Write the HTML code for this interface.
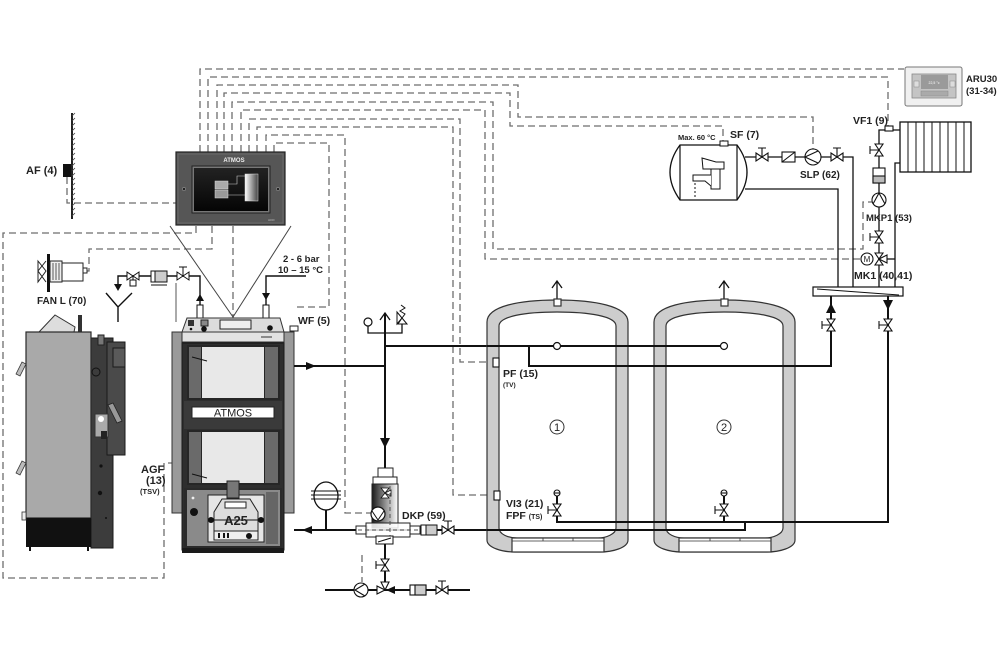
<!DOCTYPE html>
<html><head><meta charset="utf-8"><style>
html,body{margin:0;padding:0;background:#fff;}
svg{display:block;}
text{font-family:"Liberation Sans",Arial,sans-serif;font-weight:bold;fill:#222;}
</style></head><body>
<svg width="1000" height="666" viewBox="0 0 1000 666" xmlns="http://www.w3.org/2000/svg">
<defs>
<linearGradient id="dk" x1="0" x2="1" y1="0" y2="0"><stop offset="0" stop-color="#1a1a1a"/><stop offset="0.55" stop-color="#999"/><stop offset="1" stop-color="#fff"/></linearGradient>
<linearGradient id="tkg" x1="0" x2="1" y1="0" y2="0"><stop offset="0" stop-color="#fff"/><stop offset="1" stop-color="#444"/></linearGradient>
<linearGradient id="scr" x1="0" x2="0" y1="0" y2="1"><stop offset="0" stop-color="#222"/><stop offset="1" stop-color="#050505"/></linearGradient>
</defs>

<!-- ========== DASHED SIGNAL LINES ========== -->
<g fill="none" stroke="#6e6e6e" stroke-width="1.3" stroke-dasharray="7,4">
<path d="M200,152 V69 H904"/>
<path d="M208,152 V77 H888 V126"/>
<path d="M217,152 V85 H518 V117 H813 V149"/>
<path d="M224,152 V93 H510 V126 H723 V141"/>
<path d="M232,152 V102 H493 V249 H863 V202 H872"/>
<path d="M241,152 V110 H485 V259 H861"/>
<path d="M249,152 V119 H460 V362 H493"/>
<path d="M257,152 V127 H453 V495 H494"/>
<path d="M266,152 V135 H345 V513 H371"/>
<path d="M274,152 V143 H329 V307 H293"/>
<path d="M67,177 V203 H176"/>
<path d="M196,226 V233 H3 V578 H164 V463 H172"/>
<path d="M212,226 V249 H89 V271 H85"/>
<path d="M233,226 V318"/>
<path d="M362,555 V582"/>
</g>
<line x1="176" y1="283" x2="176" y2="322" stroke="#555" stroke-width="1"/>

<!-- triangle from controller to boiler -->
<path d="M170,226 L233,317 L291,226" fill="none" stroke="#444" stroke-width="1"/>

<!-- ========== AF wall sensor ========== -->
<line x1="72" y1="113" x2="72" y2="219" stroke="#222" stroke-width="2"/>
<g stroke="#444" stroke-width="0.8">
<path d="M72,116 l3,-3 M72,121 l3,-3 M72,126 l3,-3 M72,131 l3,-3 M72,136 l3,-3 M72,141 l3,-3 M72,146 l3,-3 M72,151 l3,-3 M72,156 l3,-3 M72,161 l3,-3 M72,166 l3,-3 M72,171 l3,-3 M72,176 l3,-3 M72,181 l3,-3 M72,186 l3,-3 M72,191 l3,-3 M72,196 l3,-3 M72,201 l3,-3 M72,206 l3,-3 M72,211 l3,-3 M72,216 l3,-3"/>
</g>
<rect x="63" y="164" width="8" height="13" fill="#111"/>
<text x="26" y="174" font-size="11">AF (4)</text>

<!-- ========== CONTROLLER ========== -->
<rect x="176" y="152" width="109" height="73" fill="#565656" stroke="#222" stroke-width="1.2"/>
<rect x="178" y="154" width="105" height="69" fill="none" stroke="#6a6a6a" stroke-width="1"/>
<text x="234" y="162" font-size="6" text-anchor="middle" style="fill:#eee">ATMOS</text>
<rect x="192" y="166" width="78" height="47" fill="#777" stroke="#222"/>
<rect x="194" y="168" width="74" height="43" fill="url(#scr)"/>
<circle cx="184" cy="189" r="1.6" fill="#222" stroke="#999" stroke-width="0.6"/>
<circle cx="278" cy="189" r="1.6" fill="#222" stroke="#999" stroke-width="0.6"/>
<rect x="215" y="181" width="13" height="8" fill="#aaa" stroke="#ddd" stroke-width="0.5"/>
<rect x="215" y="190" width="13" height="8" fill="#999" stroke="#ddd" stroke-width="0.5"/>
<rect x="245" y="174" width="13" height="27" fill="url(#tkg)" stroke="#ddd" stroke-width="0.5"/>
<path d="M228,184 H237 V176 H245 M228,195 H245" fill="none" stroke="#ccc" stroke-width="0.6"/>
<text x="268" y="221" font-size="3" style="fill:#aaa">ACD</text>

<!-- ========== FAN L ========== -->
<rect x="47" y="254" width="3" height="38" fill="#111"/>
<path d="M38,261 L46,271 L38,282 Z M46,261 L38,271 L46,282" fill="#fff" stroke="#222" stroke-width="1"/>
<rect x="50" y="261" width="12" height="21" fill="#eee" stroke="#222"/>
<path d="M53,263 V280 M56,263 V280 M59,263 V280" stroke="#333" stroke-width="0.8"/>
<rect x="62" y="263" width="21" height="18" fill="#fff" stroke="#222"/>
<rect x="83" y="268" width="4" height="5" fill="#fff" stroke="#222"/>
<text x="37" y="304" font-size="10">FAN L (70)</text>

<!-- ========== BOILER SIDE VIEW ========== -->
<path d="M39,332 L55,315 L75,327 L74,332 Z" fill="#ddd" stroke="#333"/>
<rect x="78" y="315" width="4" height="17" fill="#333"/>
<rect x="91" y="338" width="22" height="210" fill="#3c3c3c" stroke="#1a1a1a"/>
<rect x="107" y="342" width="18" height="113" fill="#4a4a4a" stroke="#1a1a1a"/>
<rect x="113" y="348" width="12" height="19" fill="#5a5a5a" stroke="#1a1a1a"/>
<rect x="98" y="335" width="6" height="10" fill="#777" stroke="#222"/>
<circle cx="96" cy="372" r="4" fill="none" stroke="#111"/>
<rect x="95" y="414" width="13" height="23" fill="#aaa" stroke="#333"/>
<circle cx="101" cy="419" r="3" fill="#fff"/>
<rect x="101" y="431" width="6" height="8" fill="#222"/>
<path d="M108,405 L113,403 L122,421 L117,423 Z" fill="#999" stroke="#222" stroke-width="0.8"/>
<circle cx="101" cy="466" r="1.6" fill="#111"/>
<circle cx="100" cy="493" r="2.2" fill="#111"/>
<circle cx="106" cy="518" r="1" fill="#111"/>
<rect x="26" y="332" width="65" height="186" fill="#a9a9a9" stroke="#2a2a2a" stroke-width="1.2"/>
<rect x="26" y="518" width="65" height="29" fill="#111"/>
<path d="M30,547 V551 M88,547 V551" stroke="#111" stroke-width="2"/>
<path d="M16,374 L22,362 L26,364 L20,376 Z" fill="#bbb" stroke="#333" stroke-width="0.8"/>
<path d="M16,473 L22,461 L26,463 L20,475 Z" fill="#bbb" stroke="#333" stroke-width="0.8"/>
<rect x="22" y="512" width="4" height="8" fill="#eee" stroke="#333" stroke-width="0.8"/>

<!-- ========== COLD WATER INLET ========== -->
<g fill="none" stroke="#111" stroke-width="1.4">
<path d="M118,288 V276 H200 V305"/>
<path d="M306,276 H266 V305"/>
<path d="M106,293 L118,307 L132,293 M118,307 V322"/>
</g>
<path d="M114,284 L118,291 L122,284 Z" fill="#111"/>
<path d="M196,301 L200,294 L204,301 Z" fill="#111"/>
<path d="M262,293 L266,300 L270,293 Z" fill="#111"/>
<g fill="#fff" stroke="#111" stroke-width="1">
<path d="M127,272 L139,280 V272 L127,280 Z"/>
<path d="M133,276 V280"/><rect x="130" y="280" width="6" height="6"/>
<rect x="151" y="271" width="16" height="11"/>
<rect x="155" y="271" width="12" height="11" fill="#ccc"/>
<path d="M151,285 H167"/>
<path d="M177,272 L189,280 V272 L177,280 Z"/>
<path d="M183,276 V267 M179,267 H187" fill="none"/>
<rect x="197" y="305" width="6" height="13"/>
<rect x="263" y="305" width="6" height="13"/>
</g>
<text x="283" y="262" font-size="9.5">2 - 6 bar</text>
<text x="278" y="273" font-size="9.5">10 – 15 °C</text>

<!-- ========== BOILER FRONT ========== -->
<rect x="172" y="332" width="10" height="181" fill="#9a9a9a" stroke="#333"/>
<rect x="284" y="332" width="10" height="181" fill="#9a9a9a" stroke="#333"/>
<rect x="182" y="332" width="102" height="218" fill="#2e2e2e" stroke="#1a1a1a"/>
<path d="M187,318 H280 L284,332 H182 Z" fill="#dcdcdc" stroke="#333"/>
<rect x="188" y="320" width="6" height="6" fill="#333"/>
<circle cx="191" cy="329" r="1.3" fill="#111"/>
<rect x="201" y="320" width="7" height="6" fill="#888" stroke="#222"/>
<circle cx="204" cy="329" r="2.8" fill="#111"/>
<rect x="220" y="320" width="31" height="9" fill="#eee" stroke="#222"/>
<circle cx="270" cy="328" r="2.8" fill="#111"/>
<rect x="182" y="332" width="102" height="10" fill="#e2e2e2" stroke="#333"/>
<path d="M261,337 H272" stroke="#333" stroke-width="1"/>
<rect x="182" y="342" width="102" height="2" fill="#222"/>
<!-- upper door -->
<rect x="187" y="345" width="93" height="55" fill="#262626"/>
<rect x="189" y="347" width="12" height="51" fill="#6a6a6a"/>
<rect x="265" y="347" width="13" height="51" fill="#6a6a6a"/>
<rect x="202" y="347" width="62" height="51" fill="#e8e8e8"/>
<path d="M192,357 L207,361" stroke="#111" stroke-width="1"/>
<!-- band -->
<rect x="184" y="401" width="98" height="28" fill="#3a3a3a"/>
<rect x="192" y="407" width="82" height="11" fill="#fff" stroke="#222"/>
<text x="233" y="416.5" font-size="11" text-anchor="middle" style="font-weight:normal">ATMOS</text>
<!-- lower door -->
<rect x="187" y="430" width="93" height="55" fill="#262626"/>
<rect x="189" y="432" width="12" height="51" fill="#6a6a6a"/>
<rect x="265" y="432" width="13" height="51" fill="#6a6a6a"/>
<rect x="202" y="432" width="62" height="51" fill="#e8e8e8"/>
<path d="M192,474 L207,478" stroke="#111" stroke-width="1"/>
<!-- bottom section -->
<rect x="184" y="488" width="98" height="60" fill="#2a2a2a"/>
<rect x="187" y="490" width="93" height="56" fill="#8a8a8a"/>
<rect x="266" y="492" width="12" height="52" fill="#666"/>
<circle cx="193" cy="498" r="1.4" fill="#eee"/>
<circle cx="194" cy="512" r="4" fill="#111"/>
<rect x="208" y="495" width="56" height="47" fill="#e6e6e6" stroke="#222"/>
<rect x="227" y="481" width="12" height="17" fill="#777" stroke="#222"/>
<path d="M214,512 L222,499 H250 L258,512 V531 H214 Z" fill="#ddd" stroke="#222"/>
<rect x="225" y="502" width="21" height="6" fill="#fff" stroke="#222"/>
<path d="M210,520 H262" stroke="#111" stroke-width="1"/>
<circle cx="211" cy="520" r="3" fill="#111"/>
<circle cx="261" cy="520" r="3" fill="#111"/>
<text x="236" y="525" font-size="13" text-anchor="middle">A25</text>
<rect x="214" y="531" width="44" height="9" fill="#eee" stroke="#222"/>
<rect x="218" y="533" width="2" height="5" fill="#111"/>
<rect x="223" y="533" width="2" height="5" fill="#111"/>
<rect x="227" y="533" width="2" height="5" fill="#111"/>
<circle cx="249" cy="536" r="3" fill="#111"/>
<rect x="182" y="548" width="102" height="5" fill="#1a1a1a"/>
<rect x="290" y="326" width="8" height="5" fill="#fff" stroke="#222"/>
<text x="298" y="324" font-size="10.5">WF (5)</text>
<text x="141" y="473" font-size="11">AGF</text>
<text x="146" y="484" font-size="11">(13)</text>
<text x="140" y="494" font-size="7.5">(TSV)</text>

<!-- ========== MAIN PIPES ========== -->
<g fill="none" stroke="#111" stroke-width="2">
<path d="M294,366 H385"/>
<path d="M385,313 V468"/>
<path d="M385,346 H724"/>
<path d="M529,346 V366 H831 V296"/>
<path d="M294,530 H745 V522"/>
<path d="M557,496 V522 H888 V296"/>
<path d="M724,496 V522"/>
<path d="M385,543 V590"/>
<path d="M325,590 H470"/>
<path d="M326,510 V530"/>
</g>
<g fill="none" stroke="#111" stroke-width="1.3">
<path d="M368,326 V333 H402 V324"/>
<path d="M380,320 L385,313 L390,320"/>
<path d="M557,300 V281 M552,288 L557,281 L562,288"/>
<path d="M724,300 V281 M719,288 L724,281 L729,288"/>
</g>
<path d="M306,362 L316,366 L306,370 Z" fill="#111"/>
<path d="M312,526 L302,530 L312,534 Z" fill="#111"/>
<path d="M380,438 L385,448 L390,438 Z" fill="#111"/>
<path d="M826,313 L831,303 L836,313 Z" fill="#111"/>
<path d="M883,300 L888,310 L893,300 Z" fill="#111"/>

<!-- gauge & safety valve -->
<circle cx="368" cy="322" r="4" fill="#fff" stroke="#111" stroke-width="1.2"/>
<path d="M397,312 L402,318 L397,324 Z M398,324 L402,318 L407,324 Z" fill="#fff" stroke="#111" stroke-width="1"/>
<path d="M402,318 L405,314 L400,311 L405,308 L401,305" fill="none" stroke="#111" stroke-width="1"/>

<!-- expansion vessel -->
<ellipse cx="326" cy="496" rx="12" ry="14" fill="#fff" stroke="#111" stroke-width="1.3"/>
<path d="M311,491 H341 M311,495 H341 M311,499 H341" stroke="#111" stroke-width="1"/>

<!-- ========== DKP ========== -->
<rect x="378" y="468" width="15" height="10" fill="#fff" stroke="#222"/>
<rect x="373" y="477" width="24" height="7" fill="#fff" stroke="#222"/>
<rect x="372" y="484" width="26" height="44" fill="url(#dk)" stroke="#222"/>
<path d="M381,488 L389,498 H381 L389,488 Z" fill="#fff" stroke="#111" stroke-width="0.8"/>
<path d="M385,493 L391,490 V496 Z" fill="#fff" stroke="#111" stroke-width="0.8"/>
<rect x="356" y="526" width="11" height="8" fill="#fff" stroke="#222"/>
<rect x="366" y="523" width="44" height="14" fill="#fff" stroke="#222" fill-opacity="0.85"/>
<rect x="410" y="526" width="10" height="8" fill="#fff" stroke="#222"/>
<path d="M358,530 H418 M390,486 V537" stroke="#555" stroke-width="1" stroke-dasharray="4,3" fill="none"/>
<circle cx="378" cy="514" r="7" fill="#fff" stroke="#111" stroke-width="1.2"/>
<path d="M372,511 L378,520 L384,511" fill="none" stroke="#111" stroke-width="1"/>
<rect x="376" y="536" width="17" height="8" fill="#fff" stroke="#111"/>
<path d="M378,542 L391,538" stroke="#111"/>
<rect x="421" y="525" width="16" height="10" fill="#fff" stroke="#111"/>
<rect x="426" y="525" width="11" height="10" fill="#ccc" stroke="#111"/>
<text x="402" y="519" font-size="10.5">DKP (59)</text>

<!-- valves (horizontal bowtie) -->
<g fill="#fff" stroke="#111" stroke-width="1.1">
<path d="M442,526 L454,534 V526 L442,534 Z"/>
<path d="M448,530 V521 M444,521 H452" fill="none"/>
<path d="M436,586 L448,594 V586 L436,594 Z"/>
<path d="M442,590 V581 M438,581 H446" fill="none"/>
<rect x="410" y="585" width="16" height="10"/>
<rect x="415" y="585" width="11" height="10" fill="#ccc"/>
<!-- vertical valve bottom -->
<path d="M381,559 L389,571 H381 L389,559 Z"/>
<path d="M385,565 H376 M376,561 V569" fill="none"/>
<!-- 3-way bottom -->
<path d="M377,586 L385,590 L377,594 Z"/>
<path d="M381,582 L385,590 L389,582 Z"/>
<circle cx="361" cy="590" r="7"/>
<path d="M365,584 L355,590 L365,596" fill="none"/>
</g>
<path d="M395,586 L386,590 L395,594 Z" fill="#111"/>

<!-- ========== TANKS ========== -->
<g stroke="#333" stroke-width="1.2">
<path d="M487,540 V322 C487,306 520,300 557,300 C594,300 628,306 628,322 V540 C628,548 612,552 600,552 H515 C503,552 487,548 487,540 Z" fill="#cdcdcd"/>
<path d="M499,528 V326 C499,316 526,312 557,312 C588,312 616,316 616,326 V528 C616,534 606,538 598,538 H517 C508,538 499,534 499,528 Z" fill="#fff"/>
<rect x="512" y="538" width="92" height="14" fill="#fff"/>
<path d="M512,541 H604 M543,538 V541 M573,538 V541" fill="none" stroke-width="0.8"/>
<rect x="554" y="299" width="7" height="7" fill="#fff"/>
<path d="M654,540 V322 C654,306 687,300 724,300 C761,300 795,306 795,322 V540 C795,548 779,552 767,552 H682 C670,552 654,548 654,540 Z" fill="#cdcdcd"/>
<path d="M666,528 V326 C666,316 693,312 724,312 C755,312 783,316 783,326 V528 C783,534 773,538 765,538 H684 C675,538 666,534 666,528 Z" fill="#fff"/>
<rect x="679" y="538" width="92" height="14" fill="#fff"/>
<path d="M679,541 H771 M710,538 V541 M740,538 V541" fill="none" stroke-width="0.8"/>
<rect x="721" y="299" width="7" height="7" fill="#fff"/>
</g>
<!-- pipes inside tanks (redraw over fill) -->
<g fill="none" stroke="#111" stroke-width="2">
<path d="M487,346 H724"/>
<path d="M529,346 V366 H831"/>
<path d="M487,530 H745 V522"/>
<path d="M557,496 V522 H888"/>
<path d="M724,496 V522"/>
</g>
<circle cx="557" cy="346" r="3.5" fill="#fff" stroke="#111" stroke-width="1.2"/>
<circle cx="724" cy="346" r="3.5" fill="#fff" stroke="#111" stroke-width="1.2"/>
<circle cx="557" cy="427" r="7" fill="none" stroke="#333" stroke-width="1"/>
<text x="557" y="431" font-size="11" text-anchor="middle" style="font-weight:normal">1</text>
<circle cx="724" cy="427" r="7" fill="none" stroke="#333" stroke-width="1"/>
<text x="724" y="431" font-size="11" text-anchor="middle" style="font-weight:normal">2</text>
<g fill="#fff" stroke="#111" stroke-width="1.1">
<circle cx="557" cy="493" r="3"/><path d="M554,493 H560" fill="none"/>
<path d="M553,504 L561,516 H553 L561,504 Z"/>
<path d="M557,510 H548 M548,506 V514" fill="none"/>
<circle cx="724" cy="493" r="3"/><path d="M721,493 H727" fill="none"/>
<path d="M720,504 L728,516 H720 L728,504 Z"/>
<path d="M724,510 H715 M715,506 V514" fill="none"/>
<path d="M827,319 L835,331 H827 L835,319 Z"/>
<path d="M831,325 H822 M822,321 V329" fill="none"/>
<path d="M884,319 L892,331 H884 L892,319 Z"/>
<path d="M888,325 H879 M879,321 V329" fill="none"/>
<rect x="493" y="358" width="6" height="9"/>
<rect x="494" y="491" width="6" height="9"/>
</g>
<text x="503" y="377" font-size="10.5">PF (15)</text>
<text x="503" y="387" font-size="6.5">(TV)</text>
<text x="506" y="507" font-size="10.5">VI3 (21)</text>
<text x="506" y="519" font-size="10.5">FPF <tspan font-size="7">(TS)</tspan></text>

<!-- ========== HEADER / DISTRIBUTOR ========== -->
<g fill="none" stroke="#111" stroke-width="1.3">
<path d="M745,157 H853 V287"/>
<path d="M745,189 H838 V287"/>
<path d="M900,130 H879 V287"/>
<path d="M900,163 H895 V287"/>
<path d="M887,259 H895"/>
</g>
<rect x="813" y="287" width="90" height="9" fill="#fff" stroke="#111" stroke-width="1.2"/>
<path d="M817,289 L899,295" stroke="#111" stroke-width="1"/>

<!-- DHW tank -->
<path d="M680,145 H737 Q757,172 737,200 H680 Q660,172 680,145 Z" fill="#fff" stroke="#111" stroke-width="1.3"/>
<path d="M680,145 V200 M737,145 V200" stroke="#111" stroke-width="1.2"/>
<path d="M702,158 L716,162 H724 V169 H703 Z" fill="#fff" stroke="#111" stroke-width="1"/>
<rect x="711" y="169" width="9" height="20" fill="#fff" stroke="#111" stroke-width="1"/>
<path d="M711,175 H693 V181 H705 L711,186" fill="#fff" stroke="#111" stroke-width="1"/>
<path d="M695,183 V197" stroke="#111" stroke-width="1" stroke-dasharray="2,2"/>
<rect x="720" y="141" width="8" height="5" fill="#fff" stroke="#111"/>
<text x="678" y="140" font-size="7.5">Max. 60 °C</text>
<text x="730" y="138" font-size="10.5">SF (7)</text>

<g fill="#fff" stroke="#111" stroke-width="1.1">
<path d="M756,153 L768,161 V153 L756,161 Z"/>
<path d="M762,157 V148 M758,148 H766" fill="none"/>
<rect x="782" y="152" width="13" height="10"/>
<path d="M782,162 L795,152" fill="none"/>
<circle cx="813" cy="157" r="8"/>
<path d="M818,151 L805,157 L818,163" fill="none"/>
<path d="M831,153 L843,161 V153 L831,161 Z"/>
<path d="M837,157 V148 M833,148 H841" fill="none"/>
<!-- MK1 branch -->
<rect x="885" y="126" width="8" height="5"/>
<path d="M875,144 L883,156 H875 L883,144 Z"/>
<path d="M879,150 H870 M870,146 V154" fill="none"/>
<rect x="873" y="168" width="12" height="15"/>
<rect x="873" y="176" width="12" height="7" fill="#bbb"/>
<circle cx="879" cy="200" r="7"/>
<path d="M873,204 L879,193 L885,204" fill="none"/>
<path d="M875,231 L883,243 H875 L883,231 Z"/>
<path d="M879,237 H870 M870,233 V241" fill="none"/>
<path d="M875,253 L883,265 H875 L883,253 Z"/>
<path d="M879,259 L887,255 V263 Z"/>
<circle cx="867" cy="259" r="6"/>
</g>
<text x="867" y="262" font-size="8" text-anchor="middle" style="font-weight:normal">M</text>
<text x="800" y="178" font-size="10">SLP (62)</text>
<text x="853" y="124" font-size="10.5">VF1 (9)</text>
<text x="866" y="221" font-size="9.5">MKP1 (53)</text>
<text x="854" y="279" font-size="10.5">MK1 (40,41)</text>

<!-- radiator -->
<rect x="900" y="122" width="71" height="50" fill="#fff" stroke="#111" stroke-width="1.3"/>
<path d="M908,122 V172 M916,122 V172 M924,122 V172 M932,122 V172 M940,122 V172 M948,122 V172 M956,122 V172 M964,122 V172" stroke="#111" stroke-width="1"/>

<!-- ARU30 -->
<rect x="905" y="67" width="57" height="39" rx="2" fill="#f0f0f0" stroke="#777" stroke-width="1"/>
<rect x="912" y="74" width="44" height="24" fill="#c4c4c4" stroke="#888" stroke-width="0.8"/>
<rect x="921" y="75" width="27" height="14" fill="#9a9a9a"/>
<rect x="921" y="91" width="27" height="5" fill="#aaa" stroke="#888" stroke-width="0.5"/>
<rect x="914" y="81" width="5" height="6" fill="#ddd" stroke="#888" stroke-width="0.5"/>
<rect x="950" y="81" width="5" height="6" fill="#ddd" stroke="#888" stroke-width="0.5"/>
<text x="934" y="84" font-size="3.5" text-anchor="middle" style="fill:#fff;font-weight:normal">22,5 °c</text>
<text x="966" y="82" font-size="9.5">ARU30</text>
<text x="966" y="94" font-size="9.5">(31-34)</text>
</svg>
</body></html>
